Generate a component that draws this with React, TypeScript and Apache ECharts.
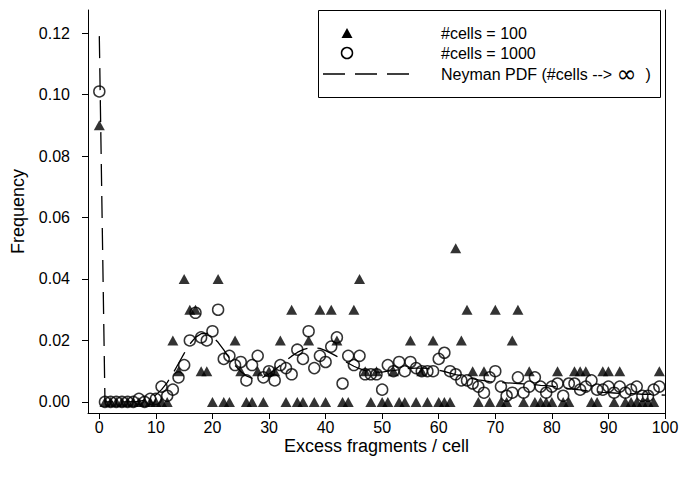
import React, { useEffect, useRef } from "react";
import * as echarts from "echarts";

// Frequency per excess-fragment count (x = 0, 1, 2, ...)
const cells100: number[] = [
  0.09, 0, 0, 0, 0, 0, 0, 0, 0, 0,
  0, 0, 0, 0.02, 0.01, 0.04, 0.03, 0.03, 0.01, 0.01,
  0, 0.04, 0, 0, 0.02, 0.01, 0, 0, 0.01, 0,
  0.01, 0.01, 0.02, 0, 0.03, 0, 0, 0.02, 0, 0.03,
  0, 0.03, 0.02, 0, 0, 0.03, 0.04, 0.01, 0, 0.01,
  0, 0, 0.01, 0, 0, 0.02, 0, 0.01, 0, 0.02,
  0, 0, 0, 0.05, 0.02, 0.03, 0.01, 0, 0.01, 0,
  0.03, 0, 0, 0.02, 0.03, 0, 0.01, 0, 0, 0,
  0, 0.01, 0, 0, 0.01, 0.01, 0.01, 0, 0, 0.01,
  0.01, 0, 0.01, 0, 0, 0, 0, 0, 0, 0.01,
];

const cells1000: number[] = [
  0.101, 0, 0, 0, 0, 0, 0, 0.001, 0, 0.001,
  0.001, 0.005, 0.002, 0.004, 0.008, 0.012, 0.02, 0.029, 0.021, 0.02,
  0.023, 0.03, 0.014, 0.015, 0.012, 0.013, 0.007, 0.012, 0.015, 0.008,
  0.01, 0.007, 0.012, 0.011, 0.009, 0.017, 0.014, 0.023, 0.011, 0.015,
  0.013, 0.018, 0.021, 0.006, 0.015, 0.012, 0.015, 0.009, 0.009, 0.009,
  0.004, 0.012, 0.01, 0.013, 0.01, 0.013, 0.011, 0.01, 0.01, 0.01,
  0.014, 0.016, 0.01, 0.009, 0.007, 0.007, 0.006, 0.005, 0.003, 0.008,
  0.01, 0.005, 0.002, 0.003, 0.008, 0.003, 0.005, 0.008, 0.005, 0.003,
  0.005, 0.006, 0.002, 0.006, 0.006, 0.004, 0.005, 0.007, 0.004, 0.004,
  0.005, 0.003, 0.005, 0.003, 0.004, 0.005, 0.002, 0.002, 0.004, 0.005,
];

const neymanPdf: number[] = [
  0.119, 0, 0, 0, 0, 0, 0.0001, 0.0002, 0.0006, 0.0012,
  0.0023, 0.004, 0.0063, 0.0092, 0.0125, 0.0158, 0.0188, 0.021, 0.0222, 0.0223,
  0.0212, 0.0194, 0.0169, 0.0143, 0.0119, 0.0099, 0.0085, 0.0077, 0.0076, 0.0081,
  0.0091, 0.0104, 0.0119, 0.0134, 0.0149, 0.0161, 0.017, 0.0175, 0.0176, 0.0174,
  0.0167, 0.0158, 0.0148, 0.0137, 0.0126, 0.0116, 0.0108, 0.0102, 0.0099, 0.0097,
  0.0097, 0.01, 0.0102, 0.0105, 0.0107, 0.0109, 0.011, 0.011, 0.0109, 0.0106,
  0.0103, 0.0099, 0.0094, 0.0089, 0.0085, 0.008, 0.0076, 0.0072, 0.0069, 0.0066,
  0.0065, 0.0063, 0.0062, 0.0061, 0.006, 0.0059, 0.0057, 0.0056, 0.0054, 0.0053,
  0.0051, 0.0048, 0.0046, 0.0043, 0.0041, 0.0039, 0.0037, 0.0035, 0.0033, 0.0031,
  0.003, 0.0029, 0.0028, 0.0027, 0.0027, 0.0026, 0.0025, 0.0025, 0.0024, 0.0023,
  0.0022,
];

const xTicks: number[] = [0, 10, 20, 30, 40, 50, 60, 70, 80, 90, 100];
const yTicks: number[] = [0, 0.02, 0.04, 0.06, 0.08, 0.1, 0.12];
const seriesNames: string[] = ["#cells = 100", "#cells = 1000", "Neyman PDF (#cells --> \u221E )"];

const FONT = "'Liberation Sans', Arial, Helvetica, sans-serif";

export default function App() {
  const ref = useRef<HTMLDivElement>(null);

  useEffect(() => {
    if (!ref.current) return;
    const chart = echarts.init(ref.current, null, { renderer: "svg" });
    const toPairs = (arr: number[]) => arr.map((v, i) => [i, v]);

    const yMin = -0.0036;
    const yMax = 0.1275;

    chart.setOption({
      animation: false,
      backgroundColor: "#fff",
      textStyle: { fontFamily: FONT, color: "#000" },
      grid: {
        left: 88,
        right: 14,
        top: 10,
        bottom: 67,
        containLabel: false,
        outerBoundsMode: "none",
      },
      xAxis: {
        type: "value",
        min: -2,
        max: 100,
        name: "Excess fragments / cell",
        nameLocation: "middle",
        nameGap: 24,
        nameMoveOverlap: false,
        nameTextStyle: { fontSize: 18, color: "#000", fontFamily: FONT },
        axisLine: { show: true, onZero: false, lineStyle: { color: "#000", width: 1 } },
        axisTick: { show: true, length: 6, customValues: xTicks, lineStyle: { color: "#000", width: 1 } },
        axisLabel: {
          customValues: xTicks,
          fontSize: 16,
          color: "#000",
          margin: 6,
          fontFamily: FONT,
          showMaxLabel: true,
        },
        splitLine: { show: false },
      },
      yAxis: [
        {
          type: "value",
          min: yMin,
          max: yMax,
          name: "Frequency",
          nameLocation: "middle",
          nameGap: 61,
          nameRotate: 90,
          nameMoveOverlap: false,
          nameTextStyle: { fontSize: 18, color: "#000", fontFamily: FONT },
          axisLine: { show: true, onZero: false, lineStyle: { color: "#000", width: 1 } },
          axisTick: { show: true, length: 6, customValues: yTicks, lineStyle: { color: "#000", width: 1 } },
          axisLabel: {
            customValues: yTicks,
            fontSize: 16,
            color: "#000",
            margin: 18,
            fontFamily: FONT,
            formatter: (v: number) => v.toFixed(2),
          },
          splitLine: { show: false },
        },
        {
          type: "value",
          position: "right",
          min: yMin,
          max: yMax,
          axisLine: { show: true, onZero: false, lineStyle: { color: "#000", width: 1 } },
          axisTick: { show: false },
          axisLabel: { show: false },
          splitLine: { show: false },
        },
      ],
      series: [
        {
          name: seriesNames[2],
          type: "line",
          data: toPairs(neymanPdf),
          showSymbol: false,
          symbol: "none",
          lineStyle: { color: "#000", width: 1.3, type: [22, 10] },
          z: 1,
        },
        {
          name: seriesNames[0],
          type: "scatter",
          data: toPairs(cells100),
          symbol: "triangle",
          symbolSize: [11, 10],
          itemStyle: { color: "#000" },
          z: 2,
        },
        {
          name: seriesNames[1],
          type: "scatter",
          data: toPairs(cells1000),
          symbol: "circle",
          symbolSize: 11,
          itemStyle: { color: "transparent", borderColor: "#000", borderWidth: 1.5 },
          z: 3,
        },
      ],
      graphic: [
        {
          type: "group",
          z: 100,
          children: [
            {
              type: "rect",
              shape: { x: 318.5, y: 10.5, width: 342, height: 87 },
              style: { fill: "#fff", stroke: "#000", lineWidth: 1 },
            },
            {
              type: "polygon",
              shape: { points: [[341.5, 38], [352.5, 38], [347, 28]] },
              style: { fill: "#000" },
            },
            {
              type: "circle",
              shape: { cx: 347, cy: 53, r: 5.5 },
              style: { fill: "none", stroke: "#000", lineWidth: 1.5 },
            },
            {
              type: "line",
              shape: { x1: 323, y1: 74, x2: 410, y2: 74 },
              style: { stroke: "#000", lineWidth: 1.3, lineDash: [22, 10] },
            },
            {
              type: "text",
              x: 441,
              y: 33,
              style: { text: seriesNames[0], font: `16px ${FONT}`, fill: "#000", verticalAlign: "middle" },
            },
            {
              type: "text",
              x: 441,
              y: 53,
              style: { text: seriesNames[1], font: `16px ${FONT}`, fill: "#000", verticalAlign: "middle" },
            },
            {
              type: "text",
              x: 441,
              y: 74,
              style: {
                text: "Neyman PDF (#cells --> {inf|\u221E}  )",
                font: `16px ${FONT}`,
                fill: "#000",
                verticalAlign: "middle",
                rich: {
                  inf: { fontSize: 24, fontFamily: "'DejaVu Sans', sans-serif", fill: "#000" },
                },
              },
            },
          ],
        },
      ],
    });

    return () => chart.dispose();
  }, []);

  return (
    <div
      ref={ref}
      style={{ position: "absolute", left: 0, top: 0, width: 679, height: 480, background: "#fff" }}
    />
  );
}
